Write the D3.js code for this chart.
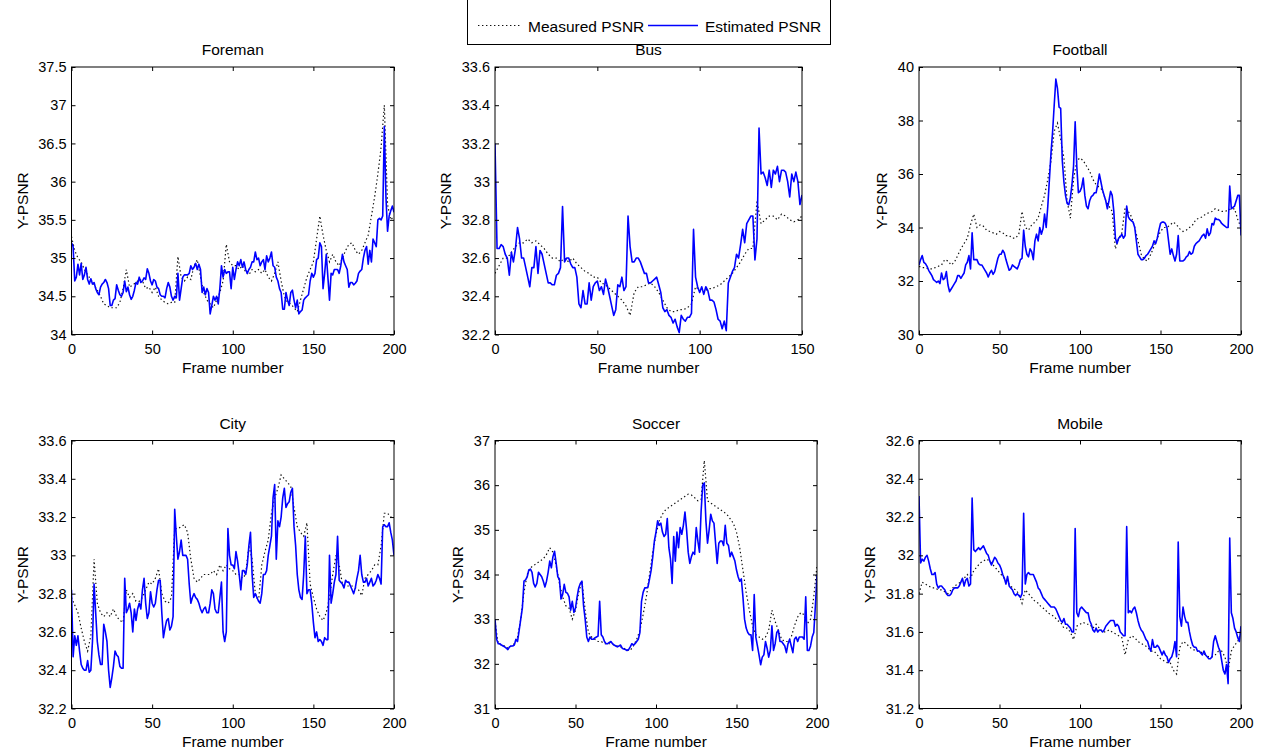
<!DOCTYPE html>
<html>
<head>
<meta charset="utf-8">
<script src="https://d3js.org/d3.v7.min.js"></script>
<style>
body { margin: 0; background: #fff; }
svg { font-family: "Liberation Sans", Arial, Helvetica, sans-serif; }
svg text { fill: #000; }
.box { fill: none; stroke: #000; stroke-width: 1; }
.est { fill: none; stroke: #0000ff; stroke-width: 1.6; stroke-linejoin: round; }
.meas { fill: none; stroke: #111; stroke-width: 1.2; stroke-dasharray: 1.4,2.6; }
</style>
</head>
<body>
<svg id="chart" width="1265" height="751"></svg>
<script>
// ---- data ----
// estimated PSNR: one value per frame; measured PSNR: one value every 2 frames
var foremanEst = [
  35.2,35.15,34.7,34.75,34.92,34.78,34.93,34.72,34.78,34.88,
  34.72,34.66,34.73,34.66,34.68,34.6,34.55,34.52,34.62,34.66,
  34.68,34.72,34.68,34.6,34.38,34.38,34.45,34.47,34.65,34.58,
  34.52,34.5,34.55,34.7,34.56,34.62,34.52,34.46,34.5,34.58,
  34.68,34.66,34.75,34.68,34.7,34.74,34.72,34.86,34.8,34.7,
  34.65,34.72,34.7,34.62,34.6,34.52,34.5,34.5,34.48,34.6,
  34.68,34.62,34.5,34.45,34.5,34.48,34.8,34.45,34.6,34.75,
  34.78,34.78,34.78,34.8,34.9,34.85,34.88,34.93,34.85,34.92,
  34.85,34.55,34.62,34.52,34.6,34.55,34.27,34.38,34.5,34.45,
  34.5,34.4,34.6,34.9,34.75,34.85,34.8,34.82,34.82,34.6,
  34.88,34.72,34.85,34.95,34.9,34.98,34.88,34.95,34.85,34.8,
  34.85,34.88,34.95,34.95,35.08,34.98,35.0,34.9,34.95,34.98,
  34.85,35.03,34.95,35.0,35.08,34.9,34.88,34.75,34.7,34.6,
  34.55,34.33,34.33,34.55,34.45,34.38,34.55,34.58,34.45,34.35,
  34.45,34.27,34.3,34.32,34.45,34.48,34.5,34.52,34.7,34.8,
  34.75,34.8,34.98,35.0,35.2,35.15,34.6,34.8,35.05,34.75,
  34.45,34.8,34.78,34.85,34.85,34.85,34.8,34.9,35.05,34.95,
  34.9,34.85,34.62,34.68,34.68,34.65,34.67,34.7,34.8,34.83,
  34.85,35.0,35.1,35.15,34.92,35.1,34.95,35.25,35.2,35.15,
  35.5,35.52,35.5,35.55,36.72,35.8,35.35,35.55,35.62,35.68,
  35.6];
var foremanMeas = [
  35.28,35.1,35.0,34.95,34.85,34.78,34.72,34.65,34.58,34.5,
  34.4,34.38,34.35,34.35,34.35,34.42,34.6,34.85,34.62,34.65,
  34.68,34.72,34.7,34.6,34.62,34.55,34.62,34.5,34.45,34.42,
  34.4,34.42,34.42,35.02,34.75,34.7,34.75,34.72,34.9,34.98,
  34.75,34.55,34.45,34.4,34.35,34.45,34.55,34.7,35.18,34.95,
  34.9,34.9,34.85,34.9,34.82,34.78,34.85,34.82,34.85,34.8,
  34.85,34.75,34.7,34.8,34.95,34.7,34.5,34.42,34.4,34.35,
  34.3,34.45,34.6,34.75,34.85,34.95,35.25,35.55,35.3,35.1,
  34.95,35.05,34.95,34.9,35.0,35.1,35.18,35.2,35.1,35.05,
  35.1,35.2,35.3,35.55,35.8,36.1,36.45,37.0,35.7,35.5,
  35.55];

var busEst = [
  33.2,32.65,32.65,32.67,32.66,32.62,32.6,32.51,32.63,32.58,
  32.65,32.76,32.7,32.6,32.6,32.55,32.5,32.45,32.55,32.55,
  32.66,32.52,32.64,32.62,32.57,32.52,32.47,32.47,32.46,32.46,
  32.51,32.52,32.55,32.87,32.58,32.6,32.6,32.57,32.55,32.55,
  32.5,32.36,32.34,32.43,32.36,32.36,32.47,32.38,32.45,32.47,
  32.48,32.43,32.45,32.41,32.49,32.45,32.4,32.35,32.3,32.33,
  32.46,32.45,32.5,32.43,32.45,32.82,32.66,32.58,32.58,32.6,
  32.6,32.58,32.55,32.52,32.52,32.47,32.47,32.48,32.49,32.5,
  32.46,32.42,32.34,32.32,32.33,32.3,32.29,32.26,32.28,32.24,
  32.21,32.3,32.28,32.27,32.29,32.29,32.31,32.75,32.5,32.45,
  32.42,32.45,32.41,32.45,32.43,32.38,32.38,32.37,32.33,32.28,
  32.27,32.23,32.27,32.22,32.47,32.5,32.53,32.55,32.62,32.6,
  32.67,32.75,32.68,32.78,32.8,32.82,32.82,32.59,32.7,33.28,
  33.04,33.05,33.02,32.98,33.06,32.97,33.06,33.04,33.08,33.0,
  33.06,33.06,33.05,33.0,32.92,33.04,33.0,33.05,33.0,32.88,
  32.93];
var busMeas = [
  32.52,32.56,32.6,32.6,32.63,32.66,32.68,32.68,32.7,32.68,
  32.69,32.67,32.65,32.62,32.6,32.6,32.58,32.6,32.58,32.6,
  32.57,32.55,32.53,32.52,32.5,32.5,32.47,32.46,32.44,32.42,
  32.4,32.38,32.35,32.3,32.42,32.45,32.45,32.46,32.47,32.45,
  32.42,32.38,32.34,32.32,32.32,32.33,32.33,32.34,32.36,32.45,
  32.43,32.42,32.44,32.44,32.45,32.46,32.48,32.5,32.52,32.55,
  32.58,32.62,32.65,32.65,32.9,32.78,32.8,32.82,32.82,32.8,
  32.83,32.82,32.8,32.79,32.8,
  32.82];

var footballEst = [
  32.6,32.8,32.95,32.7,32.65,32.55,32.4,32.3,32.2,32.05,
  32.0,31.95,32.0,31.9,32.3,32.05,32.1,32.35,31.85,31.6,
  31.7,31.8,31.9,32.0,32.2,32.2,32.1,32.2,32.3,32.6,
  32.7,32.95,32.45,33.8,32.8,32.8,32.8,32.65,32.6,32.6,
  32.5,32.4,32.3,32.15,32.3,32.4,32.25,32.35,32.6,32.85,
  33.0,33.0,33.15,33.05,32.8,32.6,32.4,32.45,32.6,32.55,
  32.5,32.45,32.6,32.8,32.85,33.9,33.3,33.0,32.9,33.2,
  33.1,32.8,33.5,33.75,33.5,34.0,33.75,33.95,34.5,34.0,
  34.8,35.8,36.8,37.6,38.6,39.55,39.2,38.5,38.45,36.5,
  35.7,35.2,34.9,34.85,35.1,35.6,36.3,37.95,36.3,35.3,
  35.35,35.5,35.85,35.2,34.8,34.7,35.0,35.15,35.2,35.3,
  35.3,35.6,36.0,35.7,35.4,35.2,35.0,34.7,35.0,35.35,
  35.2,34.6,33.6,33.4,33.6,33.65,33.75,33.6,33.7,34.8,
  34.4,34.3,34.25,34.2,34.0,33.5,33.0,32.9,32.8,32.8,
  32.85,32.95,33.0,33.1,33.2,33.3,33.5,33.4,33.6,33.9,
  34.15,34.2,34.2,34.15,34.0,33.5,33.0,33.2,32.95,32.75,
  33.0,33.7,32.75,32.75,32.75,32.8,32.9,32.95,33.1,33.0,
  33.05,33.3,33.4,33.45,33.5,33.6,33.7,33.75,33.6,33.95,
  33.7,33.8,34.15,34.1,34.35,34.3,34.3,34.25,34.15,34.1,
  34.05,34.0,34.0,35.55,34.7,34.75,34.8,35.0,35.2,35.2,
  33.7];
var footballMeas = [
  32.55,32.5,32.5,32.45,32.45,32.5,32.55,32.6,32.8,32.75,
  32.6,32.7,32.95,33.2,33.4,33.6,34.1,34.5,34.0,34.1,
  34.05,33.9,33.85,33.8,33.75,33.85,33.8,33.7,33.7,33.6,
  33.6,33.75,34.6,34.0,33.9,34.1,34.2,34.35,34.8,35.2,
  35.8,36.5,37.6,37.9,37.3,36.6,35.0,34.35,35.8,36.5,
  36.6,36.5,36.3,36.1,35.8,35.6,35.5,35.4,35.0,34.8,
  34.6,33.2,33.6,33.8,34.75,34.6,34.4,34.0,33.5,33.0,
  32.8,32.75,33.0,33.3,33.6,33.85,34.0,34.0,34.1,34.2,
  34.1,33.95,33.85,33.9,34.0,34.1,34.3,34.35,34.4,34.5,
  34.55,34.6,34.7,34.65,34.6,34.6,34.65,34.7,34.7,34.3,
  34.0];

var cityEst = [
  32.82,32.47,32.58,32.53,32.58,32.5,32.43,32.41,32.4,32.4,
  32.45,32.39,32.4,32.55,32.85,32.7,32.55,32.48,32.43,32.43,
  32.64,32.6,32.55,32.4,32.31,32.36,32.42,32.5,32.48,32.47,
  32.42,32.41,32.41,32.88,32.7,32.72,32.75,32.7,32.6,32.72,
  32.66,32.72,32.75,32.72,32.82,32.88,32.75,32.67,32.7,32.81,
  32.75,32.73,32.75,32.82,32.87,32.87,32.7,32.57,32.62,32.66,
  32.67,32.61,32.63,32.68,33.24,33.1,32.98,33.02,33.08,33.0,
  33.0,33.0,32.98,32.85,32.75,32.78,32.8,32.78,32.77,32.75,
  32.72,32.7,32.72,32.73,32.7,32.7,32.75,32.82,32.8,32.72,
  32.7,32.7,32.78,32.86,32.6,32.55,32.6,33.14,33.0,32.95,
  32.95,32.93,33.02,32.97,32.9,32.82,32.92,32.92,32.9,32.95,
  33.05,33.12,32.9,32.78,32.8,32.78,32.76,32.75,32.8,32.9,
  32.9,32.92,33.0,33.05,33.1,33.3,33.37,32.98,33.18,33.15,
  33.2,33.3,33.35,33.25,33.27,33.28,33.33,33.35,33.15,33.05,
  32.9,32.82,32.78,32.77,32.9,33.1,32.8,32.82,32.82,32.75,
  32.65,32.57,32.6,32.55,32.56,32.55,32.53,32.57,32.56,32.56,
  33.0,32.75,32.8,32.86,32.9,33.1,32.87,32.86,32.85,32.83,
  32.87,32.86,32.86,32.84,32.82,32.8,32.83,32.88,32.92,33.0,
  32.9,32.86,32.86,32.88,32.84,32.86,32.88,32.84,32.85,32.87,
  32.9,32.88,32.85,33.15,33.16,33.15,33.15,33.17,33.12,33.08,
  33.0];
var cityMeas = [
  32.78,32.74,32.7,32.62,32.55,32.5,32.58,32.98,32.75,32.7,
  32.68,32.7,32.68,32.72,32.68,32.66,32.65,32.82,32.78,32.8,
  32.76,32.76,32.78,32.82,32.86,32.85,32.88,32.93,32.8,32.76,
  32.75,32.78,33.14,33.14,33.15,33.16,33.12,32.98,32.88,32.86,
  32.88,32.9,32.9,32.9,32.92,32.9,32.95,32.92,32.95,32.93,
  32.92,32.9,32.9,32.88,32.9,33.05,32.98,32.8,32.76,32.95,
  33.02,33.08,33.22,33.3,33.35,33.42,33.4,33.38,33.36,33.25,
  33.15,33.12,33.1,33.17,32.85,32.78,32.72,32.68,32.66,32.7,
  32.78,32.9,33.0,32.95,32.85,32.84,32.84,32.84,32.83,32.82,
  32.79,32.88,32.9,32.92,32.95,32.95,33.05,33.22,33.22,33.2,
  33.2];

var soccerEst = [
  33.0,32.55,32.45,32.45,32.42,32.4,32.38,32.35,32.32,32.38,
  32.4,32.4,32.42,32.55,32.5,32.75,33.0,33.25,33.85,33.88,
  33.95,34.1,34.12,34.05,33.8,33.72,33.8,34.05,34.0,33.95,
  33.85,33.72,33.85,34.05,34.3,34.15,34.4,34.52,34.25,33.95,
  33.9,33.45,33.55,33.78,33.6,33.58,33.5,33.2,33.4,33.15,
  33.25,33.5,33.7,33.8,33.85,33.3,33.0,32.6,32.5,32.6,
  32.55,32.55,32.58,32.6,32.62,33.4,32.65,32.6,32.5,32.45,
  32.45,32.48,32.5,32.45,32.42,32.4,32.38,32.4,32.42,32.35,
  32.33,32.32,32.3,32.32,32.38,32.45,32.42,32.45,32.5,32.55,
  32.7,33.4,33.6,33.7,33.7,33.72,33.9,34.1,34.4,34.75,
  34.95,35.2,35.1,35.15,34.95,34.85,34.9,35.25,34.6,34.35,
  33.8,34.85,34.3,34.95,34.6,35.05,34.9,35.1,35.4,35.0,
  34.5,34.25,34.4,34.5,34.45,35.05,34.75,34.5,35.4,36.0,
  36.05,35.2,34.7,35.0,35.35,35.2,35.15,34.7,34.25,34.7,
  34.75,34.75,34.65,35.1,34.7,34.65,34.4,34.5,34.4,34.3,
  34.1,33.95,33.85,33.9,33.5,33.0,32.8,32.7,32.65,32.65,
  32.3,33.55,32.6,32.4,32.2,31.98,32.15,32.2,32.5,32.35,
  32.15,32.3,32.85,32.3,32.45,32.7,32.75,32.5,32.5,32.45,
  32.4,32.25,32.45,32.55,32.4,32.25,32.55,32.6,32.5,32.6,
  32.6,32.6,32.55,33.5,32.3,32.3,32.4,32.6,32.7,33.3,
  34.0];
var soccerMeas = [
  32.95,32.45,32.42,32.4,32.35,32.4,32.45,32.6,33.0,33.6,
  34.0,34.15,34.2,34.25,34.3,34.35,34.45,34.6,34.5,34.2,
  33.8,33.5,33.3,33.25,33.0,33.2,33.6,33.85,33.2,32.7,
  32.6,32.55,32.5,32.5,32.45,32.45,32.45,32.42,32.4,32.38,
  32.35,32.3,32.3,32.4,32.55,32.75,33.1,33.5,34.0,34.5,
  34.9,35.2,35.35,35.45,35.5,35.55,35.6,35.65,35.7,35.75,
  35.8,35.78,35.72,35.65,35.68,36.55,35.65,35.6,35.55,35.5,
  35.45,35.4,35.35,35.25,35.15,34.95,34.6,34.1,33.6,33.2,
  32.85,32.65,32.6,32.55,32.6,32.75,33.2,32.95,32.75,32.55,
  32.5,32.5,32.6,32.85,33.05,33.15,33.1,32.9,33.0,33.5,
  34.2];

var mobileEst = [
  32.31,31.96,31.98,31.97,31.99,32.0,31.97,31.93,31.9,31.9,
  31.91,31.85,31.83,31.84,31.84,31.83,31.82,31.8,31.79,31.79,
  31.8,31.82,31.83,31.83,31.83,31.84,31.86,31.88,31.84,31.87,
  31.88,31.84,31.85,32.3,32.03,32.02,32.03,32.04,32.03,32.04,
  32.05,32.03,32.01,32.0,31.97,31.95,31.97,31.99,31.98,31.96,
  31.95,31.93,31.9,31.88,31.85,31.89,31.84,31.83,31.82,31.8,
  31.79,31.8,31.79,31.78,31.8,32.22,31.85,31.9,31.91,31.9,
  31.9,31.9,31.88,31.86,31.83,31.82,31.8,31.78,31.77,31.76,
  31.75,31.74,31.73,31.73,31.73,31.72,31.7,31.68,31.66,31.65,
  31.67,31.64,31.64,31.63,31.62,31.6,31.6,32.14,31.7,31.68,
  31.72,31.73,31.72,31.71,31.7,31.7,31.66,31.64,31.61,31.6,
  31.62,31.6,31.61,31.61,31.6,31.61,31.63,31.64,31.65,31.66,
  31.66,31.66,31.63,31.64,31.63,31.6,31.59,31.58,31.58,32.15,
  31.7,31.71,31.7,31.72,31.73,31.7,31.66,31.63,31.61,31.6,
  31.58,31.56,31.55,31.52,31.5,31.56,31.52,31.52,31.53,31.52,
  31.5,31.48,31.5,31.48,31.47,31.44,31.46,31.47,31.5,31.55,
  31.47,32.07,31.68,31.63,31.73,31.68,31.65,31.65,31.6,31.56,
  31.53,31.52,31.52,31.5,31.5,31.49,31.48,31.5,31.48,31.47,
  31.46,31.46,31.47,31.55,31.58,31.55,31.52,31.5,31.45,31.4,
  31.38,31.43,31.33,32.09,31.7,31.67,31.62,31.6,31.57,31.55,
  31.63];
var mobileMeas = [
  31.8,31.86,31.85,31.84,31.83,31.83,31.82,31.82,31.81,31.8,
  31.82,31.84,31.85,31.86,31.88,31.9,31.88,31.92,31.94,31.96,
  31.97,31.98,31.97,31.95,31.93,31.91,31.89,31.87,31.85,31.83,
  31.82,31.8,31.75,31.82,31.8,31.78,31.76,31.75,31.73,31.72,
  31.7,31.69,31.68,31.66,31.65,31.62,31.62,31.6,31.56,31.63,
  31.64,31.65,31.64,31.64,31.62,31.64,31.62,31.6,31.6,31.61,
  31.6,31.59,31.58,31.57,31.48,31.56,31.58,31.57,31.55,31.54,
  31.53,31.52,31.5,31.5,31.48,31.46,31.45,31.44,31.44,31.4,
  31.38,31.52,31.55,31.54,31.52,31.51,31.5,31.5,31.49,31.48,
  31.47,31.47,31.48,31.5,31.5,31.47,31.4,31.5,31.53,31.55,
  31.6];

// tick values
var foremanTicks = [34, 34.5, 35, 35.5, 36, 36.5, 37, 37.5];
var busTicks = [32.2, 32.4, 32.6, 32.8, 33, 33.2, 33.4, 33.6];
var footballTicks = [30, 32, 34, 36, 38, 40];
var cityTicks = [32.2, 32.4, 32.6, 32.8, 33, 33.2, 33.4, 33.6];
var soccerTicks = [31, 32, 33, 34, 35, 36, 37];
var mobileTicks = [31.2, 31.4, 31.6, 31.8, 32, 32.2, 32.4, 32.6];
var frameTicks200 = [0, 50, 100, 150, 200];
var frameTicks150 = [0, 50, 100, 150];
var measStep = 2;

var seriesNames = ["Measured PSNR", "Estimated PSNR"];

// ---- layout ----
var panels = [
  {title: "Foreman",  est: foremanEst,  meas: foremanMeas,  xmax: 200, xticks: frameTicks200, ydom: [34, 37.5],   yticks: foremanTicks,  box: [71.5, 394, 67, 334.5]},
  {title: "Bus",      est: busEst,      meas: busMeas,      xmax: 150, xticks: frameTicks150, ydom: [32.2, 33.6], yticks: busTicks,      box: [495, 802, 67, 334.5]},
  {title: "Football", est: footballEst, meas: footballMeas, xmax: 200, xticks: frameTicks200, ydom: [30, 40],     yticks: footballTicks, box: [919, 1241, 67, 334.5]},
  {title: "City",     est: cityEst,     meas: cityMeas,     xmax: 200, xticks: frameTicks200, ydom: [32.2, 33.6], yticks: cityTicks,     box: [71.5, 394, 440.5, 708.5]},
  {title: "Soccer",   est: soccerEst,   meas: soccerMeas,   xmax: 200, xticks: frameTicks200, ydom: [31, 37],     yticks: soccerTicks,   box: [495, 817, 440.5, 708.5]},
  {title: "Mobile",   est: mobileEst,   meas: mobileMeas,   xmax: 200, xticks: frameTicks200, ydom: [31.2, 32.6], yticks: mobileTicks,   box: [919, 1241, 440.5, 708.5]}
];

var svg = d3.select("#chart");
var tickFont = "14.5px", labelFont = "15.5px", tickLen = 4;

function styleAxis(g) {
  g.select(".domain").remove();
  g.selectAll("line").attr("stroke", "#000");
  g.selectAll("text").attr("fill", "#000").style("font-size", tickFont);
  g.attr("font-family", null);
}

panels.forEach(function(p, i) {
  var x = d3.scaleLinear().domain([0, p.xmax]).range([p.box[0], p.box[1]]);
  var y = d3.scaleLinear().domain(p.ydom).range([p.box[3], p.box[2]]);
  var g = svg.append("g").attr("class", "panel");

  g.append("clipPath").attr("id", "clip" + i)
    .append("rect")
    .attr("x", p.box[0]).attr("y", p.box[2])
    .attr("width", p.box[1] - p.box[0]).attr("height", p.box[3] - p.box[2]);

  var measLine = d3.line().x(function(d, j) { return x(j * measStep); }).y(function(d) { return y(d); });
  var estLine = d3.line().x(function(d, j) { return x(j); }).y(function(d) { return y(d); });

  g.append("path").datum(p.meas).attr("class", "meas")
    .attr("clip-path", "url(#clip" + i + ")").attr("d", measLine);
  g.append("path").datum(p.est).attr("class", "est")
    .attr("clip-path", "url(#clip" + i + ")").attr("d", estLine);

  // axes with inward ticks on all four sides
  g.append("g").attr("transform", "translate(0," + p.box[3] + ")")
    .call(d3.axisBottom(x).tickValues(p.xticks).tickSize(-tickLen).tickPadding(9).tickFormat(d3.format("d")))
    .call(styleAxis);
  g.append("g").attr("transform", "translate(0," + p.box[2] + ")")
    .call(d3.axisTop(x).tickValues(p.xticks).tickSize(-tickLen).tickFormat(""))
    .call(styleAxis);
  var yAxisG = g.append("g").attr("transform", "translate(" + p.box[0] + ",0)")
    .call(d3.axisLeft(y).tickValues(p.yticks).tickSize(-tickLen).tickPadding(5).tickFormat(function(d) { return String(d); }))
    .call(styleAxis);
  g.append("g").attr("transform", "translate(" + p.box[1] + ",0)")
    .call(d3.axisRight(y).tickValues(p.yticks).tickSize(-tickLen).tickFormat(""))
    .call(styleAxis);

  g.append("rect").attr("class", "box")
    .attr("x", p.box[0]).attr("y", p.box[2])
    .attr("width", p.box[1] - p.box[0]).attr("height", p.box[3] - p.box[2]);

  var cx = (p.box[0] + p.box[1]) / 2;
  g.append("text").attr("x", cx).attr("y", p.box[2] - 12)
    .attr("text-anchor", "middle").style("font-size", labelFont).text(p.title);
  g.append("text").attr("x", cx).attr("y", p.box[3] + 38)
    .attr("text-anchor", "middle").style("font-size", labelFont).text("Frame number");

  var maxW = 0;
  yAxisG.selectAll("text").each(function() { maxW = Math.max(maxW, this.getComputedTextLength()); });
  var lx = p.box[0] - 5 - maxW - 10.5, ly = (p.box[2] + p.box[3]) / 2;
  g.append("text").attr("transform", "translate(" + lx + "," + ly + ") rotate(-90)")
    .attr("text-anchor", "middle").style("font-size", labelFont).text("Y-PSNR");
});

// ---- legend (top edge runs off the page, as in the figure) ----
var lg = svg.append("g").attr("class", "legend");
lg.append("rect").attr("x", 467.5).attr("y", -10).attr("width", 363).attr("height", 54.5)
  .attr("fill", "#fff").attr("stroke", "#000").attr("stroke-width", 1);
lg.append("line").attr("class", "meas").attr("x1", 478).attr("x2", 520).attr("y1", 25.5).attr("y2", 25.5);
lg.append("text").attr("x", 528).attr("y", 31.5).style("font-size", labelFont).text(seriesNames[0]);
lg.append("line").attr("class", "est").attr("x1", 648).attr("x2", 698).attr("y1", 25.5).attr("y2", 25.5);
lg.append("text").attr("x", 705).attr("y", 31.5).style("font-size", labelFont).text(seriesNames[1]);
</script>
</body>
</html>
